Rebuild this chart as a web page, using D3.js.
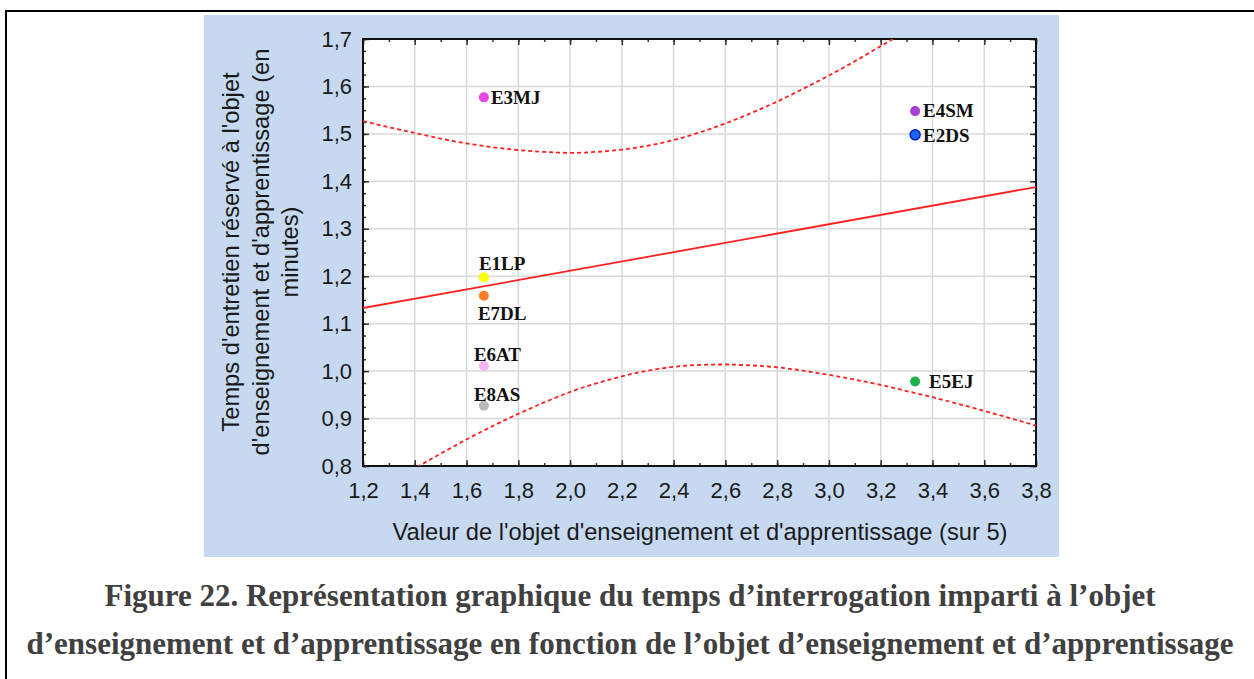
<!DOCTYPE html>
<html>
<head>
<meta charset="utf-8">
<script src="https://cdn.jsdelivr.net/npm/d3@7"></script>
<style>
  body { margin: 0; background: #fff; }
  svg { display: block; }
</style>
</head>
<body>
<div id="chart"></div>
<script>
// Points (eleves)
const students = ["E3MJ", "E4SM", "E2DS", "E1LP", "E7DL", "E6AT", "E8AS", "E5EJ"];
const valeurObjet = [1.667, 3.333, 3.333, 1.667, 1.667, 1.667, 1.667, 3.333];
const tempsEntretien = [1.577, 1.548, 1.498, 1.198, 1.159, 1.011, 0.927, 0.978];
const pointColors = ["#e645e6", "#a63fd2", "#1f66ff", "#ffff00", "#ff7f27", "#f7b4f2", "#b9b9b9", "#22b04b"];

// droite de regression (lue aux bords)
const fitX = [1.2, 3.8];
const fitY = [1.133, 1.388];

// bandes de confiance
const bandX = [1.2, 1.3, 1.4, 1.5, 1.6, 1.7, 1.8, 1.9, 2.0, 2.1, 2.2, 2.3, 2.4, 2.5,
               2.6, 2.7, 2.8, 2.9, 3.0, 3.1, 3.2, 3.3, 3.4, 3.5, 3.6, 3.7, 3.8];
const upperBand = [1.527, 1.514, 1.502, 1.490, 1.480, 1.472, 1.466, 1.462, 1.460, 1.462,
                   1.467, 1.475, 1.487, 1.503, 1.522, 1.544, 1.568, 1.595, 1.623, 1.653,
                   1.685, 1.717, 1.750, 1.784, 1.819, 1.854, 1.890];
const lowerBand = [0.729, 0.762, 0.795, 0.826, 0.856, 0.884, 0.910, 0.934, 0.956, 0.974,
                   0.989, 1.001, 1.009, 1.013, 1.014, 1.012, 1.008, 1.001, 0.992, 0.982,
                   0.971, 0.958, 0.945, 0.931, 0.916, 0.901, 0.885];

const xTicks = [1.2, 1.4, 1.6, 1.8, 2.0, 2.2, 2.4, 2.6, 2.8, 3.0, 3.2, 3.4, 3.6, 3.8];
const yTicks = [0.8, 0.9, 1.0, 1.1, 1.2, 1.3, 1.4, 1.5, 1.6, 1.7];

const xTitle = "Valeur de l'objet d'enseignement et d'apprentissage (sur 5)";
const yTitle = ["Temps d'entretien réservé à l'objet",
                "d'enseignement et d'apprentissage (en",
                "minutes)"];
const caption = ["Figure 22. Représentation graphique du temps d’interrogation imparti à l’objet",
                 "d’enseignement et d’apprentissage en fonction de l’objet d’enseignement et d’apprentissage"];

// label placement relative to the dot [dx, dy]
const labelOffsets = {
  E3MJ: [7, 7], E4SM: [8, 6], E2DS: [8, 7], E5EJ: [14, 6],
  E1LP: [-5, -7], E7DL: [-6, 24], E6AT: [-10, -5], E8AS: [-10, -5]
};

const width = 1254, height = 679;
const plot = { left: 363, top: 39, right: 1036, bottom: 466 };

const svg = d3.select("#chart").append("svg")
  .attr("width", width)
  .attr("height", height);

// page frame
svg.append("line")
  .attr("x1", 5).attr("x2", width).attr("y1", 11).attr("y2", 11)
  .attr("stroke", "#000").attr("stroke-width", 2);
svg.append("line")
  .attr("x1", 6).attr("x2", 6).attr("y1", 10).attr("y2", height)
  .attr("stroke", "#000").attr("stroke-width", 2);

// blue panel
svg.append("rect")
  .attr("x", 204).attr("y", 15)
  .attr("width", 855).attr("height", 542)
  .attr("fill", "#c6d9f0");

const x = d3.scaleLinear().domain([1.2, 3.8]).range([plot.left, plot.right]);
const y = d3.scaleLinear().domain([0.8, 1.7]).range([plot.bottom, plot.top]);
const fmt = d => d3.format(".1f")(d).replace(".", ",");

svg.append("rect")
  .attr("x", plot.left).attr("y", plot.top)
  .attr("width", plot.right - plot.left).attr("height", plot.bottom - plot.top)
  .attr("fill", "#fff");

svg.append("defs").append("clipPath").attr("id", "plotClip")
  .append("rect")
  .attr("x", plot.left).attr("y", plot.top)
  .attr("width", plot.right - plot.left).attr("height", plot.bottom - plot.top);

// grid
const grid = svg.append("g").attr("stroke", "#dadada").attr("stroke-width", 1.5);
grid.selectAll("line.vx").data(xTicks.slice(1, -1)).enter().append("line")
  .attr("x1", d => x(d)).attr("x2", d => x(d))
  .attr("y1", plot.top).attr("y2", plot.bottom);
grid.selectAll("line.hy").data(yTicks.slice(1, -1)).enter().append("line")
  .attr("x1", plot.left).attr("x2", plot.right)
  .attr("y1", d => y(d)).attr("y2", d => y(d));

// axes with inward ticks on all four sides
const xMinor = d3.range(1.2, 3.81, 0.1);
const yMinor = d3.range(0.8, 1.701, 0.025);

function tickAxis(axis, pos, major, minor) {
  const g = svg.append("g").attr("transform", pos);
  g.call(axis.tickValues(minor).tickSizeInner(-3).tickSizeOuter(0).tickFormat(""));
  g.selectAll("path").remove();
  const g2 = svg.append("g").attr("transform", pos);
  g2.call(axis.tickValues(major).tickSizeInner(-6).tickSizeOuter(0).tickFormat(""));
  g2.selectAll("path").remove();
  [g, g2].forEach(s => s.selectAll("line").attr("stroke", "#333").attr("stroke-width", 1.5));
}
tickAxis(d3.axisBottom(x), `translate(0,${plot.bottom})`, xTicks, xMinor);
tickAxis(d3.axisTop(x), `translate(0,${plot.top})`, xTicks, xMinor);
tickAxis(d3.axisLeft(y), `translate(${plot.left},0)`, yTicks, yMinor);
tickAxis(d3.axisRight(y), `translate(${plot.right},0)`, yTicks, yMinor);

// tick labels
svg.append("g").attr("transform", `translate(0,${plot.bottom})`)
  .call(d3.axisBottom(x).tickValues(xTicks).tickSize(0).tickPadding(16).tickFormat(fmt))
  .call(g => g.select(".domain").remove())
  .selectAll("text")
  .attr("font-family", "'Liberation Sans', Arial, sans-serif")
  .attr("font-size", 22).attr("fill", "#1a1a1a");

svg.append("g").attr("transform", `translate(${plot.left},0)`)
  .call(d3.axisLeft(y).tickValues(yTicks).tickSize(0).tickPadding(11).tickFormat(fmt))
  .call(g => g.select(".domain").remove())
  .selectAll("text")
  .attr("font-family", "'Liberation Sans', Arial, sans-serif")
  .attr("font-size", 22).attr("fill", "#1a1a1a");

// plot border
svg.append("rect")
  .attr("x", plot.left).attr("y", plot.top)
  .attr("width", plot.right - plot.left).attr("height", plot.bottom - plot.top)
  .attr("fill", "none").attr("stroke", "#111").attr("stroke-width", 2);

// regression + bands
const lines = svg.append("g").attr("clip-path", "url(#plotClip)");
const line = d3.line().x(d => x(d[0])).y(d => y(d[1])).curve(d3.curveMonotoneX);

lines.append("path")
  .datum(d3.zip(fitX, fitY))
  .attr("d", line)
  .attr("fill", "none").attr("stroke", "#ff2020").attr("stroke-width", 1.8);

[upperBand, lowerBand].forEach(band => {
  lines.append("path")
    .datum(d3.zip(bandX, band))
    .attr("d", line)
    .attr("fill", "none").attr("stroke", "#ff2020")
    .attr("stroke-width", 1.8).attr("stroke-dasharray", "4,3");
});

// points
const pts = students.map((s, i) => ({ name: s, vx: valeurObjet[i], vy: tempsEntretien[i], color: pointColors[i] }));

svg.selectAll("circle.pt").data(pts).enter().append("circle")
  .attr("class", "pt")
  .attr("cx", d => x(d.vx)).attr("cy", d => y(d.vy))
  .attr("r", 5)
  .attr("fill", d => d.color)
  .attr("stroke", d => d.name === "E2DS" ? "#0a1fa8" : "none")
  .attr("stroke-width", 1.5);

svg.selectAll("text.lbl").data(pts).enter().append("text")
  .attr("class", "lbl")
  .attr("x", d => x(d.vx) + labelOffsets[d.name][0])
  .attr("y", d => y(d.vy) + labelOffsets[d.name][1])
  .attr("font-family", "'Liberation Serif', 'Times New Roman', serif")
  .attr("font-weight", "bold").attr("font-size", 19)
  .attr("fill", "#111")
  .text(d => d.name);

// axis titles
svg.append("text")
  .attr("x", 700).attr("y", 540)
  .attr("text-anchor", "middle")
  .attr("font-family", "'Liberation Sans', Arial, sans-serif")
  .attr("font-size", 23.7).attr("fill", "#1a1a1a")
  .text(xTitle);

svg.append("g").attr("transform", "translate(239,252) rotate(-90)")
  .selectAll("text").data(yTitle).enter().append("text")
  .attr("x", 0).attr("y", (d, i) => i * 29.5)
  .attr("text-anchor", "middle")
  .attr("font-family", "'Liberation Sans', Arial, sans-serif")
  .attr("font-size", 23.7).attr("fill", "#1a1a1a")
  .text(d => d);

// caption
svg.selectAll("text.cap").data(caption).enter().append("text")
  .attr("class", "cap")
  .attr("x", 630).attr("y", (d, i) => 606 + i * 48)
  .attr("text-anchor", "middle")
  .attr("font-family", "'Liberation Serif', 'Times New Roman', serif")
  .attr("font-weight", "bold").attr("font-size", 31)
  .attr("fill", "#404040")
  .text(d => d);
</script>
</body>
</html>
